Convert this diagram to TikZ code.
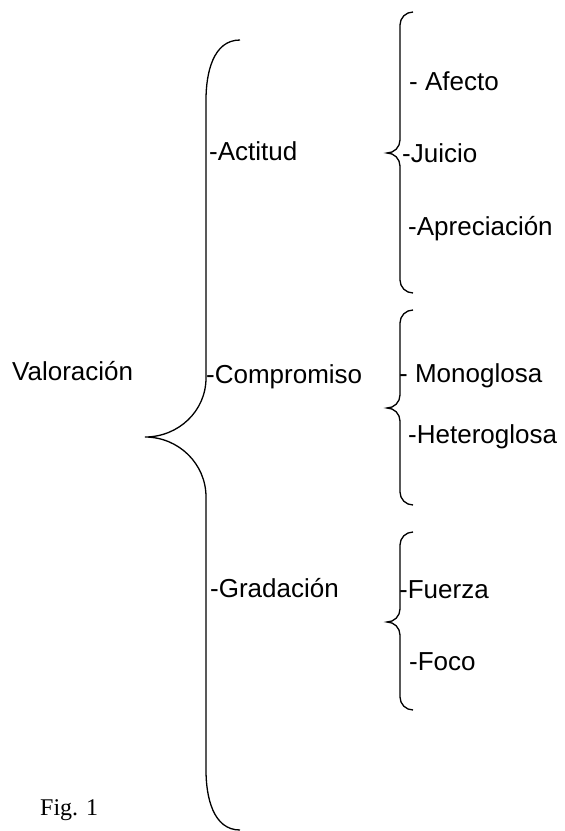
\documentclass[tikz,border=0pt]{standalone}
\usepackage{fontspec}
\setmainfont{Liberation Sans}
\newfontfamily\figfont{Liberation Serif}
\usepackage{tikz}

\tikzset{
  llave/.style={line width=1.3pt},
  etiqueta/.style={anchor=base west,inner sep=0pt,font=\fontsize{26}{30}\selectfont},
}

\begin{document}
\begin{tikzpicture}[x=1pt,y=-1pt]
\useasboundingbox (0,0) rectangle (565,831);
% llave grande
\draw[llave] (240,40) to[out=180,in=90] (206,100) -- (206,378) to[out=-90,in=0] (145,437)
  to[out=0,in=90] (206,497) -- (206,770) to[out=-90,in=180] (240,830);
% llaves pequenas
\draw[llave] (413,12) to[out=180,in=90] (400,25) -- (400,140) to[out=-90,in=0] (387,153)
  to[out=0,in=90] (400,166) -- (400,280) to[out=-90,in=180] (413,293);
\draw[llave] (413,310) to[out=180,in=90] (400,323) -- (400,395) to[out=-90,in=0] (387,408)
  to[out=0,in=90] (400,421) -- (400,492) to[out=-90,in=180] (413,505);
\draw[llave] (413,532) to[out=180,in=90] (400,545) -- (400,609) to[out=-90,in=0] (387,622)
  to[out=0,in=90] (400,635) -- (400,697) to[out=-90,in=180] (413,710);
% textos
\node[etiqueta] (valoracion) at (12,380) {Valoración};
\node[etiqueta] (actitud) at (209,160) {-Actitud};
\node[etiqueta] (compromiso) at (206,383) {-Compromiso};
\node[etiqueta] (gradacion) at (210,597) {-Gradación};
\node[etiqueta] (afecto) at (409,90) {- Afecto};
\node[etiqueta] (juicio) at (402,162) {-Juicio};
\node[etiqueta] (apreciacion) at (408,235) {-Apreciación};
\node[etiqueta] (monoglosa) at (399,382) {- Monoglosa};
\node[etiqueta] (heteroglosa) at (408,443) {-Heteroglosa};
\node[etiqueta] (fuerza) at (399,598) {-Fuerza};
\node[etiqueta] (foco) at (409,670) {-Foco};
\node[anchor=base west,inner sep=0pt,font=\figfont\fontsize{24}{28}\selectfont] (fig) at (40,815) {Fig. 1};
\end{tikzpicture}
\end{document}
